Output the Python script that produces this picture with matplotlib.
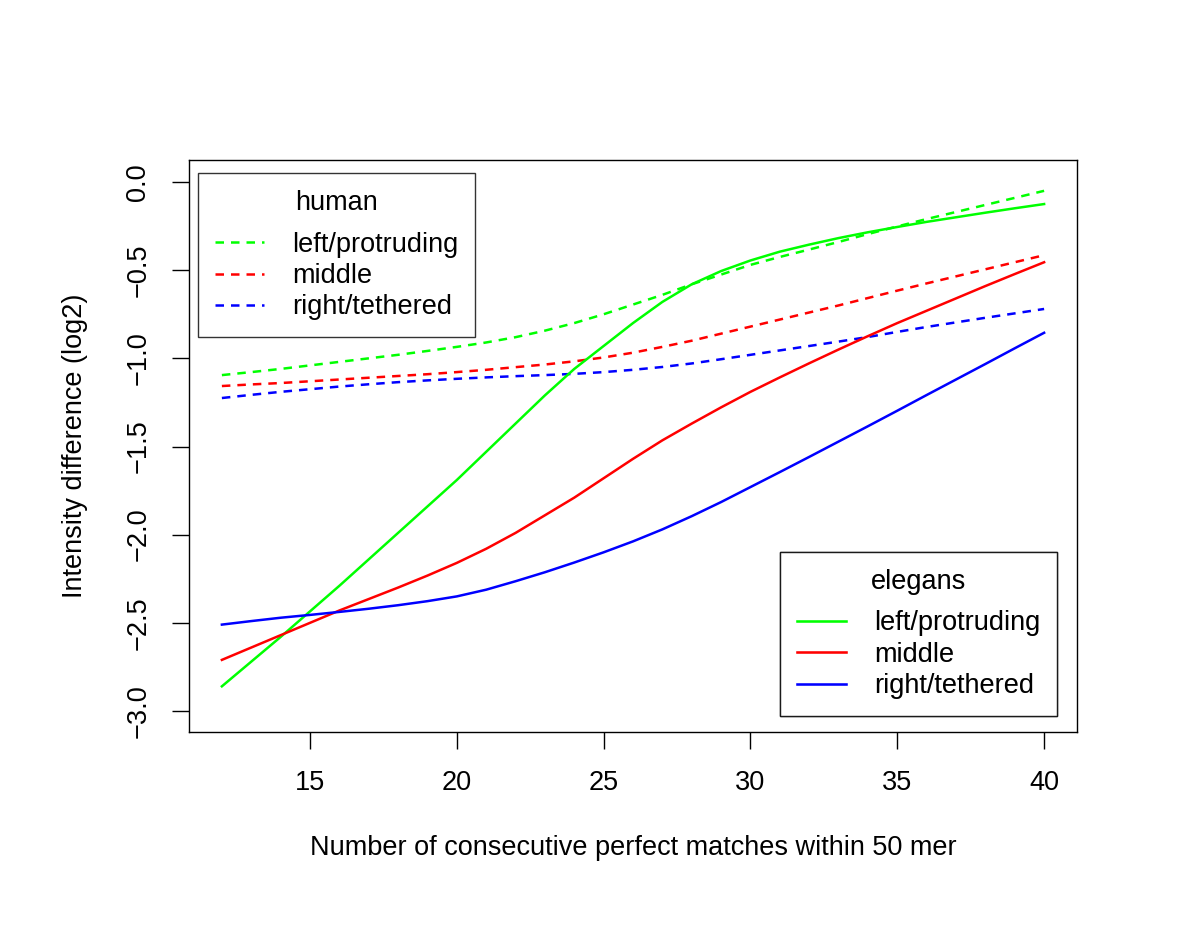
import matplotlib
matplotlib.use("Agg")
import matplotlib.pyplot as plt
from matplotlib.lines import Line2D

plt.rcParams['font.family'] = ['Liberation Sans', 'DejaVu Sans']

# x positions (consecutive perfect matches)
matches = [12, 13, 14, 15, 16, 17, 18, 19, 20, 21, 22, 23, 24, 25, 26,
           27, 28, 29, 30, 31, 32, 33, 34, 35, 36, 37, 38, 39, 40]

# human (dashed)
human_left = [-1.095, -1.078, -1.06, -1.04, -1.02, -1.00, -0.98, -0.958, -0.935, -0.91,
              -0.88, -0.843, -0.80, -0.75, -0.695, -0.64, -0.58, -0.525, -0.47,
              -0.425, -0.383, -0.34, -0.295, -0.252, -0.21, -0.17, -0.13, -0.09, -0.05]
human_middle = [-1.157, -1.148, -1.14, -1.13, -1.12, -1.11, -1.10, -1.09, -1.078, -1.065,
                -1.05, -1.035, -1.017, -0.995, -0.968, -0.935, -0.90, -0.86, -0.82,
                -0.78, -0.74, -0.70, -0.658, -0.616, -0.575, -0.535, -0.495, -0.455, -0.415]
human_right = [-1.225, -1.207, -1.19, -1.175, -1.16, -1.147, -1.135, -1.125, -1.116, -1.108,
               -1.101, -1.095, -1.088, -1.078, -1.065, -1.049, -1.029, -1.005, -0.98,
               -0.955, -0.93, -0.905, -0.879, -0.85, -0.822, -0.796, -0.77, -0.745, -0.72]

# elegans (solid)
elegans_left = [-2.86, -2.72, -2.58, -2.435, -2.29, -2.14, -1.99, -1.84, -1.69, -1.53,
                -1.37, -1.21, -1.06, -0.93, -0.80, -0.68, -0.58, -0.505, -0.445,
                -0.395, -0.355, -0.318, -0.285, -0.255, -0.226, -0.2, -0.174, -0.149, -0.125]
elegans_middle = [-2.71, -2.64, -2.57, -2.50, -2.43, -2.365, -2.30, -2.232, -2.16, -2.08,
                  -1.99, -1.89, -1.79, -1.68, -1.57, -1.465, -1.37, -1.278, -1.19,
                  -1.108, -1.028, -0.95, -0.874, -0.80, -0.73, -0.66, -0.59, -0.522, -0.455]
elegans_right = [-2.51, -2.49, -2.471, -2.455, -2.438, -2.42, -2.40, -2.377, -2.35, -2.312,
                 -2.264, -2.213, -2.158, -2.10, -2.038, -1.97, -1.895, -1.815, -1.73,
                 -1.645, -1.559, -1.472, -1.385, -1.297, -1.208, -1.12, -1.032, -0.943, -0.855]

series_labels = ['left/protruding', 'middle', 'right/tethered']
series_colors = ['#00ff00', '#ff0000', '#0000ff']
x_ticks = [15, 20, 25, 30, 35, 40]
y_ticks = [0.0, -0.5, -1.0, -1.5, -2.0, -2.5, -3.0]

fs = 19.5
lw = 1.8
dash = (0, (3.4, 2.8))

fig = plt.figure(figsize=(12, 9.27), dpi=100)
ax = fig.add_axes([189 / 1200, 1 - 732 / 927, 888 / 1200, 572 / 927])

for ys, c in zip([human_left, human_middle, human_right], series_colors):
    ax.plot(matches, ys, color=c, lw=lw, linestyle=dash)
for ys, c in zip([elegans_left, elegans_middle, elegans_right], series_colors):
    ax.plot(matches, ys, color=c, lw=lw, linestyle='-')

ax.set_xlim(10.88, 41.12)
ax.set_ylim(-3.119, 0.1248)
ax.set_xticks(x_ticks)
ax.set_xticklabels([str(t) for t in x_ticks])
ax.set_yticks(y_ticks)
ax.set_yticklabels([f"{t:.1f}".replace('-', '\u2212') for t in y_ticks])

for s in ax.spines.values():
    s.set_linewidth(1.0)
ax.tick_params(axis='both', direction='out', length=12, width=1.0,
               labelsize=fs, pad=15)
ax.tick_params(axis='y', labelrotation=90)
for lab in ax.get_yticklabels():
    lab.set_va('center')

ax.set_xlabel('Number of consecutive perfect matches within 50 mer', fontsize=fs)
ax.set_ylabel('Intensity difference (log2)', fontsize=fs)
ax.xaxis.set_label_coords(0.5, (732 - 848) / 572)
ax.xaxis.label.set_va('center')
ax.yaxis.set_label_coords((75 - 189) / 888, 0.5)
ax.yaxis.label.set_va('center')

spacing = 0.2
legend_kw = dict(fontsize=fs, title_fontsize=fs, frameon=True, fancybox=False,
                 edgecolor='black', handlelength=1.8, handletextpad=1.05,
                 labelspacing=spacing, borderpad=0.62, borderaxespad=0)


def add_legend(handles, title, loc, anchor):
    leg = ax.legend(handles, series_labels, title=title, loc=loc,
                    bbox_to_anchor=anchor, **legend_kw)
    leg.get_frame().set_linewidth(1.0)
    # wider gap between the title and the first entry, as in R
    leg._legend_box.sep = spacing * fs + 7.5
    ax.add_artist(leg)
    return leg


h_handles = [Line2D([], [], color=c, lw=lw, linestyle=dash) for c in series_colors]
add_legend(h_handles, 'human', 'upper left',
           ((198 - 189) / 888, (732 - 173) / 572))

e_handles = [Line2D([], [], color=c, lw=lw) for c in series_colors]
add_legend(e_handles, 'elegans', 'lower right',
           ((1057 - 189) / 888, (732 - 716) / 572))

fig.savefig('out.png', dpi=100)
